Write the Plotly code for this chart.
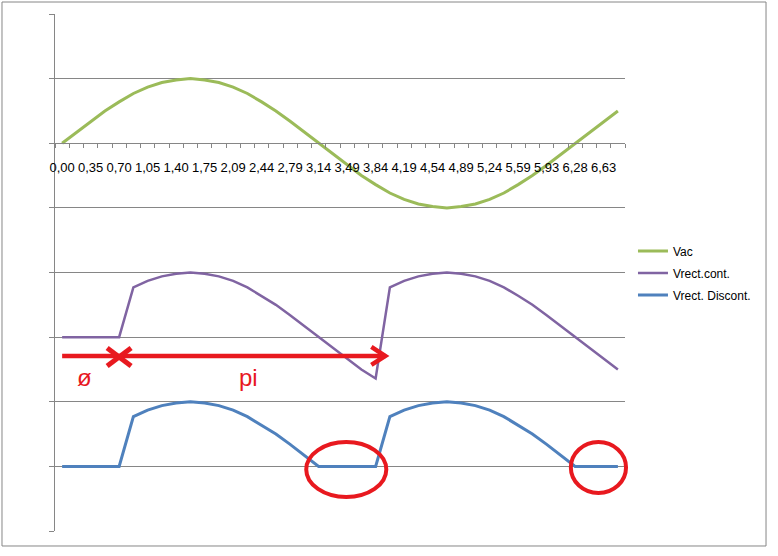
import plotly.graph_objects as go

# Categorías (ángulo en radianes, 10° por paso)
categorias = ["0,00", "0,17", "0,35", "0,52", "0,70", "0,87", "1,05", "1,22", "1,40", "1,57",
              "1,75", "1,92", "2,09", "2,27", "2,44", "2,62", "2,79", "2,97", "3,14", "3,32",
              "3,49", "3,67", "3,84", "4,01", "4,19", "4,36", "4,54", "4,71", "4,89", "5,06",
              "5,24", "5,41", "5,59", "5,76", "5,93", "6,11", "6,28", "6,46", "6,63", "6,81"]

vac = [0.00, 0.17, 0.34, 0.50, 0.64, 0.77, 0.87, 0.94, 0.98, 1.00,
       0.98, 0.94, 0.87, 0.77, 0.64, 0.50, 0.34, 0.17, 0.00, -0.17,
       -0.34, -0.50, -0.64, -0.77, -0.87, -0.94, -0.98, -1.00, -0.98, -0.94,
       -0.87, -0.77, -0.64, -0.50, -0.34, -0.17, 0.00, 0.17, 0.34, 0.50]

vrect_cont = [-3.00, -3.00, -3.00, -3.00, -3.00, -2.23, -2.13, -2.06, -2.02, -2.00,
              -2.02, -2.06, -2.13, -2.23, -2.36, -2.50, -2.66, -2.83, -3.00, -3.17,
              -3.34, -3.50, -3.64, -2.23, -2.13, -2.06, -2.02, -2.00, -2.02, -2.06,
              -2.13, -2.23, -2.36, -2.50, -2.66, -2.83, -3.00, -3.17, -3.34, -3.50]

vrect_discont = [-5.00, -5.00, -5.00, -5.00, -5.00, -4.23, -4.13, -4.06, -4.02, -4.00,
                 -4.02, -4.06, -4.13, -4.23, -4.36, -4.50, -4.66, -4.83, -5.00, -5.00,
                 -5.00, -5.00, -5.00, -4.23, -4.13, -4.06, -4.02, -4.00, -4.02, -4.06,
                 -4.13, -4.23, -4.36, -4.50, -4.66, -4.83, -5.00, -5.00, -5.00, -5.00]

posiciones = list(range(len(categorias)))
etiquetas_pos = posiciones[::2]
etiquetas = categorias[::2]

gris = "#868686"
rojo = "#E8191F"

fig = go.Figure()
fig.add_trace(go.Scatter(x=posiciones, y=vac, name="Vac", mode="lines", legendgroup="a",
                         line=dict(color="#9BBB59", width=3)))
fig.add_trace(go.Scatter(x=posiciones, y=vrect_cont, name="Vrect.cont.", mode="lines", legendgroup="b",
                         line=dict(color="#8064A2", width=2.5)))
fig.add_trace(go.Scatter(x=posiciones, y=vrect_discont, name="Vrect. Discont.", mode="lines", legendgroup="c",
                         line=dict(color="#4F81BD", width=3)))

# Flecha roja (fase y pi)
fig.add_shape(type="line", x0=0, x1=22.68, y0=-3.292, y1=-3.292, line=dict(color=rojo, width=4.5))
fig.add_shape(type="path", path="M 21.7,-3.15 L 22.68,-3.292 L 21.7,-3.43", line=dict(color=rojo, width=4.5))
fig.add_shape(type="line", x0=3.16, x1=4.84, y0=-3.167, y1=-3.447, line=dict(color=rojo, width=5))
fig.add_shape(type="line", x0=3.16, x1=4.84, y0=-3.447, y1=-3.167, line=dict(color=rojo, width=5))
fig.add_annotation(x=1.54, y=-3.62, text="ø", showarrow=False, font=dict(color=rojo, size=24))
fig.add_annotation(x=13.06, y=-3.62, text="pi", showarrow=False, font=dict(color=rojo, size=24))

# Elipses rojas
fig.add_shape(type="circle", x0=17.13, x1=22.75, y0=-5.474, y1=-4.623, line=dict(color=rojo, width=4))
fig.add_shape(type="circle", xref="paper", yref="paper", x0=0.905, x1=1.0018, y0=0.0735, y1=0.1721,
              line=dict(color=rojo, width=4))

# Borde del gráfico
fig.add_shape(type="rect", xref="paper", yref="paper", x0=-0.093, x1=1.2474, y0=-0.029, y1=1.0232,
              line=dict(color=gris, width=1))

fig.update_layout(
    width=778, height=556,
    margin=dict(l=55, r=153, t=14, b=25),
    plot_bgcolor="white", paper_bgcolor="white",
    font=dict(family="Liberation Sans", size=12, color="black"),
    legend=dict(x=1.014, y=0.499, yanchor="middle", xanchor="left", tracegroupgap=3,
                font=dict(size=12)),
    xaxis=dict(range=[-0.5, 39.5], anchor="free", position=0.75, showgrid=False, zeroline=False,
               showline=True, linecolor=gris, linewidth=1,
               tickmode="array", tickvals=etiquetas_pos, ticktext=etiquetas, ticks="",
               ticklabelstandoff=12,
               minor=dict(tickmode="array", tickvals=[p - 0.5 for p in posiciones] + [39.5],
                          ticks="outside", ticklen=4, tickcolor=gris),
               tickfont=dict(size=13)),
    yaxis=dict(range=[-6, 2], dtick=1, showgrid=True, gridcolor=gris, gridwidth=1, zeroline=False,
               showline=True, linecolor=gris, ticks="outside", ticklen=5, tickcolor=gris,
               showticklabels=False),
)

fig.write_html("out.html", config={"displayModeBar": False},
               post_script="document.body.style.margin='0';")
